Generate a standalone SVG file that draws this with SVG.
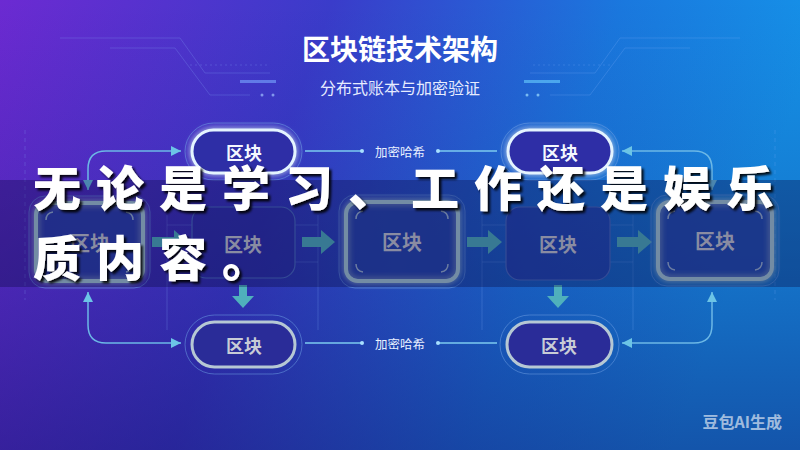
<svg xmlns="http://www.w3.org/2000/svg" width="800" height="450" viewBox="0 0 800 450">
  <defs>
    <linearGradient id="bg" x1="0" y1="0" x2="1" y2="0.2">
      <stop offset="0" stop-color="#6c2ad2"/>
      <stop offset="0.4" stop-color="#3a3cca"/>
      <stop offset="0.75" stop-color="#1a78de"/>
      <stop offset="1" stop-color="#1592e8"/>
    </linearGradient>
    <linearGradient id="shade" x1="0" y1="0" x2="0" y2="1">
      <stop offset="0" stop-color="#120a60" stop-opacity="0"/>
      <stop offset="0.45" stop-color="#120a60" stop-opacity="0.15"/>
      <stop offset="1" stop-color="#120a60" stop-opacity="0.45"/>
    </linearGradient>
    <filter id="glow" x="-30%" y="-50%" width="160%" height="200%">
      <feGaussianBlur stdDeviation="3" result="b"/>
      <feMerge><feMergeNode in="b"/><feMergeNode in="SourceGraphic"/></feMerge>
    </filter>
    <filter id="shadow" x="-10%" y="-20%" width="120%" height="140%">
      <feDropShadow dx="2.5" dy="2.5" stdDeviation="1" flood-color="#000" flood-opacity="0.9"/>
    </filter>
    <marker id="ah" viewBox="0 0 10 10" refX="10" refY="5" markerWidth="10" markerHeight="10" markerUnits="userSpaceOnUse" orient="auto-start-reverse">
      <path d="M0,0 L10,5 L0,10 z" fill="#6cc4e6"/>
    </marker>
    <style>
      .title{font-family:"Noto Sans CJK SC","Noto Sans",sans-serif;font-weight:700;fill:#fff;text-anchor:middle}
      .sub{font-family:"Noto Sans CJK SC","Noto Sans",sans-serif;fill:#e6ecff;text-anchor:middle}
      .lbl{font-family:"Noto Sans CJK SC","Noto Sans",sans-serif;font-weight:700;text-anchor:middle;dominant-baseline:central}
      .hash{font-family:"Noto Sans CJK SC","Noto Sans",sans-serif;font-size:12.5px;fill:#e8f0ff;text-anchor:middle;dominant-baseline:central}
      .conn{fill:none;stroke:#6cb8e6;stroke-width:1.5}
      .thin{fill:none;stroke:#7ccaf0;stroke-width:1.3}
      .big{fill:#4fb0bc}
      .deco{fill:none;stroke:#8fb8ff;stroke-opacity:0.22;stroke-width:1}
      .pillTop{fill:#2d2fa6;stroke:#e4f4ff;stroke-width:3}
      .pillBot{fill:#2a2c98;stroke:#b6c8d4;stroke-width:3}
      .ring{fill:none;stroke:#6a9ae0;stroke-opacity:0.55;stroke-width:1}
      .boxThick{fill:#2446aa;fill-opacity:0.55;stroke:#a8ccd6;stroke-width:4}
      .boxThin{fill:#2a2ea0;fill-opacity:0.5;stroke:#4a6cc0;stroke-width:1.2}
      .corner{fill:none;stroke:#9ab4d0;stroke-width:1.5}
      .banner{font-family:"Noto Sans CJK SC","Noto Sans CJK JP",sans-serif;font-weight:900;font-size:48px;letter-spacing:15px;fill:#fff}
    </style>
  </defs>

  <!-- background -->
  <rect width="800" height="450" fill="url(#bg)"/>
  <rect width="800" height="450" fill="url(#shade)"/>

  <!-- decorative lines -->
  <g id="decor">
    <path class="deco" d="M60,38 H180 L205,73 H270"/>
    <path class="deco" d="M110,48 H175 L210,95 H250"/>
    <path class="deco" d="M190,65 H270" stroke-dasharray="2 3"/>
    <rect x="240" y="80" width="36" height="3" fill="#7aa8ff" opacity="0.6"/>
    <circle cx="262" cy="95" r="1.5" fill="#9fc0ff" opacity="0.7"/>
    <circle cx="273" cy="95" r="1.5" fill="#9fc0ff" opacity="0.7"/>
    <path class="deco" d="M740,38 H620 L595,73 H530"/>
    <path class="deco" d="M690,48 H625 L590,95 H550"/>
    <path class="deco" d="M610,65 H530" stroke-dasharray="2 3"/>
    <rect x="524" y="80" width="36" height="3" fill="#6ad0ff" opacity="0.6"/>
    <circle cx="527" cy="95" r="1.5" fill="#9fe0ff" opacity="0.7"/>
    <circle cx="538" cy="95" r="1.5" fill="#9fe0ff" opacity="0.7"/>
    <path class="deco" d="M25,130 V300" stroke-dasharray="4 4"/>
    <path class="deco" d="M775,130 V300" stroke-dasharray="4 4"/>
    <path class="deco" d="M167,215 V330 M318,215 V330 M482,215 V330 M633,215 V330"/>
    <path class="deco" d="M167,225 H192 M295,225 H318 M167,262 H192 M295,262 H318 M482,225 H506 M610,225 H633 M482,262 H506 M610,262 H633"/>
  </g>

  <!-- title -->
  <text class="title" x="400" y="60" font-size="28">区块链技术架构</text>
  <text class="sub" x="400" y="94" font-size="16">分布式账本与加密验证</text>

  <!-- connectors -->
  <g id="connectors">
    <path class="conn" d="M88,190 V169 Q88,151 106,151 H181" marker-start="url(#ah)" marker-end="url(#ah)"/>
    <path class="conn" d="M88,292 V325 Q88,343 106,343 H181" marker-start="url(#ah)" marker-end="url(#ah)"/>
    <path class="conn" d="M712,190 V169 Q712,151 694,151 H622" marker-start="url(#ah)" marker-end="url(#ah)"/>
    <path class="conn" d="M712,292 V325 Q712,343 694,343 H622" marker-start="url(#ah)" marker-end="url(#ah)"/>
    <path class="thin" d="M305,151 H362 M438,151 H497"/>
    <circle cx="362" cy="151" r="2" fill="#a8e0ff"/>
    <circle cx="438" cy="151" r="2" fill="#a8e0ff"/>
    <text class="hash" x="400" y="151">加密哈希</text>
    <path class="thin" d="M305,343 H362 M438,343 H497"/>
    <circle cx="362" cy="343" r="2" fill="#a8e0ff"/>
    <circle cx="438" cy="343" r="2" fill="#a8e0ff"/>
    <text class="hash" x="400" y="343">加密哈希</text>
    <polygon class="big" points="152,237 174,237 174,230 188,242 174,254 174,247 152,247"/>
    <polygon class="big" points="302,237 321,237 321,230 335,242 321,254 321,247 302,247"/>
    <polygon class="big" points="467,237 488,237 488,230 502,242 488,254 488,247 467,247"/>
    <polygon class="big" points="617,237 638,237 638,230 652,242 638,254 638,247 617,247"/>
    <polygon class="big" points="239,285 247,285 247,296 254,296 243,308 232,296 239,296"/>
    <polygon class="big" points="554,285 562,285 562,296 569,296 558,308 547,296 554,296"/>
  </g>

  <!-- pills -->
  <g id="pill-top-left">
    <rect class="ring" x="185" y="123" width="117" height="57" rx="28.5"/>
    <rect class="pillTop" x="192" y="130" width="103" height="43" rx="21.5" filter="url(#glow)"/>
    <text class="lbl" x="244" y="152" font-size="18" fill="#f4f8ff">区块</text>
  </g>
  <g id="pill-top-right">
    <rect class="ring" x="501" y="123" width="118" height="57" rx="28.5"/>
    <rect class="pillTop" x="508" y="130" width="104" height="43" rx="21.5" filter="url(#glow)"/>
    <text class="lbl" x="560" y="152" font-size="18" fill="#f4f8ff">区块</text>
  </g>
  <g id="pill-bottom-left">
    <rect class="ring" x="185" y="315" width="117" height="59" rx="29.5"/>
    <rect class="pillBot" x="192" y="322" width="103" height="45" rx="22.5"/>
    <text class="lbl" x="244" y="345" font-size="18" fill="#c8ccd6">区块</text>
  </g>
  <g id="pill-bottom-right">
    <rect class="ring" x="500" y="315" width="119" height="59" rx="29.5"/>
    <rect class="pillBot" x="507" y="322" width="105" height="45" rx="22.5"/>
    <text class="lbl" x="559" y="345" font-size="18" fill="#c8ccd6">区块</text>
  </g>

  <!-- middle boxes -->
  <g id="box-1">
    <rect class="ring" x="29" y="196" width="121" height="92" rx="16"/>
    <rect class="boxThick" x="36" y="203" width="107" height="78" rx="12" filter="url(#glow)"/>
    <path class="corner" d="M46,220 Q46,213 53,212 M133,220 Q133,213 126,212 M46,264 Q46,271 53,272 M133,264 Q133,271 126,272"/>
    <text class="lbl" x="90" y="242" font-size="20" fill="#c8ccd2">区块</text>
  </g>
  <g id="box-2">
    <rect class="boxThin" x="192" y="207" width="103" height="71" rx="14"/>
    <text class="lbl" x="243" y="243" font-size="19" fill="#c8ccd2">区块</text>
  </g>
  <g id="box-3">
    <rect class="ring" x="339" y="195" width="126" height="93" rx="16"/>
    <rect class="boxThick" x="346" y="202" width="112" height="79" rx="12" filter="url(#glow)"/>
    <path class="corner" d="M356,219 Q356,212 363,211 M448,219 Q448,212 441,211 M356,264 Q356,271 363,272 M448,264 Q448,271 441,272"/>
    <text class="lbl" x="402" y="241" font-size="20" fill="#c8ccd2">区块</text>
  </g>
  <g id="box-4">
    <rect class="boxThin" x="506" y="207" width="104" height="73" rx="14"/>
    <text class="lbl" x="558" y="243" font-size="19" fill="#c8ccd2">区块</text>
  </g>
  <g id="box-5">
    <rect class="ring" x="651" y="195" width="128" height="91" rx="16"/>
    <rect class="boxThick" x="658" y="202" width="114" height="77" rx="12" filter="url(#glow)"/>
    <path class="corner" d="M668,219 Q668,212 675,211 M762,219 Q762,212 755,211 M668,262 Q668,269 675,270 M762,262 Q762,269 755,270"/>
    <text class="lbl" x="715" y="240" font-size="20" fill="#c8ccd2">区块</text>
  </g>

  <!-- banner overlay -->
  <rect x="0" y="180" width="800" height="107" fill="#0a0a40" fill-opacity="0.33"/>
  <g filter="url(#shadow)">
    <text class="banner" x="33" y="206">无论是学习、工作还是娱乐</text>
    <text class="banner" x="33" y="276">质内容。</text>
  </g>

  <!-- watermark -->
  <text x="782" y="428" font-family="'Noto Sans CJK SC','Noto Sans',sans-serif" font-weight="700" font-size="16" fill="#ffffff" fill-opacity="0.6" text-anchor="end">豆包AI生成</text>
</svg>
